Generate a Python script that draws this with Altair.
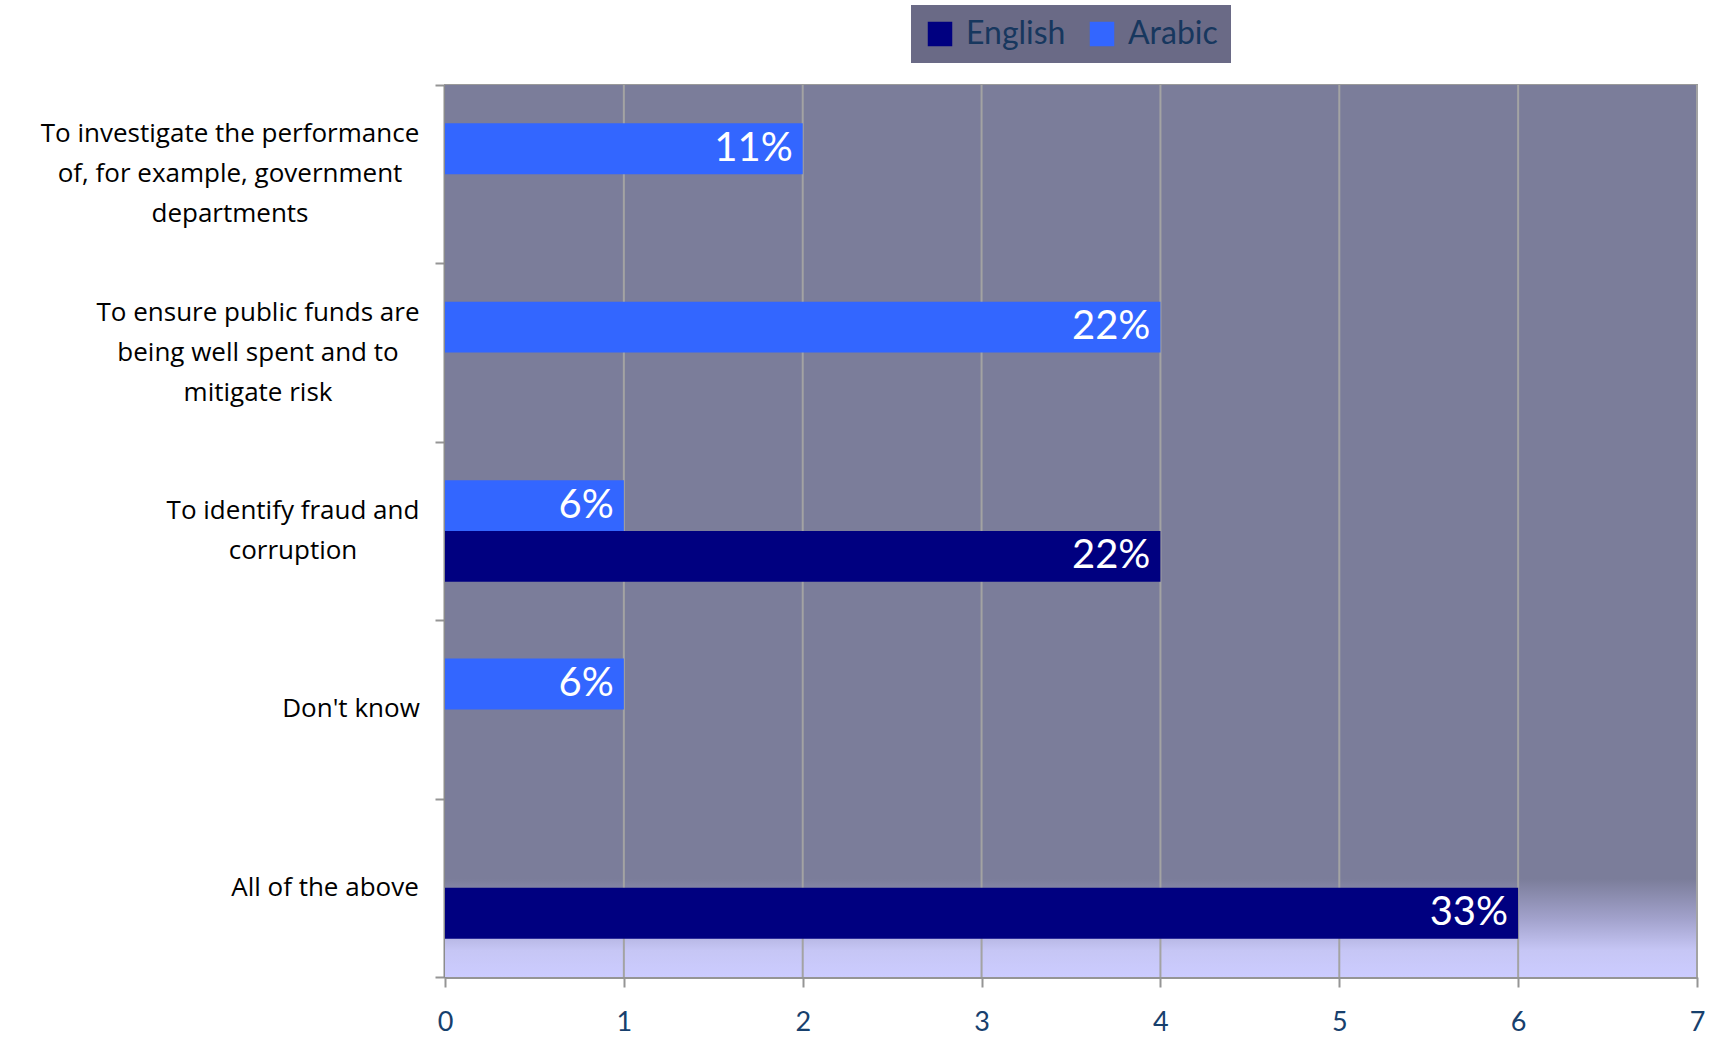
import altair as alt
import pandas as pd

categories = [
    "To investigate the performance\nof, for example, government\ndepartments",
    "To ensure public funds are\nbeing well spent and to\nmitigate risk",
    "To identify fraud and\ncorruption",
    "Don't know",
    "All of the above",
]
series = ["English", "Arabic"]
english_counts = [0, 0, 4, 0, 6]
english_labels = ["", "", "22%", "", "33%"]
arabic_counts = [2, 4, 1, 1, 0]
arabic_labels = ["11%", "22%", "6%", "6%", ""]
x_ticks = [0, 1, 2, 3, 4, 5, 6, 7]

# half-width (px) of each category label block: its centred lines end flush right
label_half_widths = [189, 161, 126, 68, 94]

W, H = 1252, 892

rows = []
for c, v, l in zip(categories, english_counts, english_labels):
    if v > 0:
        rows.append({"cat": c, "lang": "English", "value": v, "label": l})
for c, v, l in zip(categories, arabic_counts, arabic_labels):
    if v > 0:
        rows.append({"cat": c, "lang": "Arabic", "value": v, "label": l})
df = pd.DataFrame(rows)
ticks_df = pd.DataFrame({"tick": x_ticks[1:]})
cats_df = pd.DataFrame({"cat": categories})

FONT = "Lato"
CAT_FONT = "Open Sans"
XSCALE = alt.Scale(domain=[0, 7], nice=False)

background = alt.Chart(pd.DataFrame({"a": [0]})).mark_rect(
    color=alt.Gradient(
        gradient="linear",
        x1=0, y1=0, x2=0, y2=1,
        stops=[
            alt.GradientStop(offset=0.0, color="#7B7D9A"),
            alt.GradientStop(offset=0.89, color="#7B7D9A"),
            alt.GradientStop(offset=0.935, color="#A2A2CC"),
            alt.GradientStop(offset=0.97, color="#C6C6F5"),
            alt.GradientStop(offset=1.0, color="#CCCCFF"),
        ],
    )
).encode(
    x=alt.value(0), x2=alt.value(W), y=alt.value(0), y2=alt.value(H)
)

x_axis = alt.Axis(
    title=None,
    values=x_ticks,
    format="d",
    labelFont=FONT,
    labelFontSize=27,
    labelColor="#17406D",
    labelPadding=22,
    labelFlush=False,
    labelOverlap=False,
    tickSize=10,
    tickWidth=2,
    tickColor="#959595",
    domainColor="#959595",
    domainWidth=3,
    grid=False,
)

grid = alt.Chart(ticks_df).mark_rule(color="#A3A3A3", strokeWidth=2).encode(
    x=alt.X("tick:Q", scale=XSCALE, axis=x_axis)
)

y_enc = alt.Y(
    "cat:N",
    sort=categories,
    scale=alt.Scale(domain=categories, paddingInner=0, paddingOuter=0),
    axis=alt.Axis(
        title=None,
        labels=False,
        tickBand="extent",
        tickSize=10,
        tickWidth=2,
        tickColor="#959595",
        domainColor="#8C8C8C",
        domainWidth=4,
        grid=False,
    ),
)
yoff_enc = alt.YOffset(
    "lang:N",
    sort=["Arabic", "English"],
    scale=alt.Scale(domain=["Arabic", "English"], paddingInner=0, paddingOuter=0.754),
)

bars = alt.Chart(df).mark_bar().encode(
    x=alt.X("value:Q", scale=XSCALE, axis=x_axis),
    y=y_enc,
    yOffset=yoff_enc,
    color=alt.Color(
        "lang:N",
        scale=alt.Scale(domain=series, range=["#000080", "#3366FF"]),
        legend=alt.Legend(
            title=None,
            orient="none",
            legendX=466,
            legendY=-80,
            direction="horizontal",
            symbolType="square",
            symbolSize=600,
            symbolStrokeWidth=0,
            labelFont=FONT,
            labelFontSize=32,
            labelColor="#17375E",
            labelOffset=10,
            columnPadding=20,
            padding=13,
            fillColor="#6A6A86",
        ),
    ),
)

texts = alt.Chart(df).mark_text(
    align="right", baseline="middle", dx=-10, font=FONT, fontSize=40, color="#FFFFFF"
).encode(
    x=alt.X("value:Q", scale=XSCALE),
    y=alt.Y("cat:N", sort=categories),
    yOffset=alt.YOffset("lang:N", sort=["Arabic", "English"]),
    text="label:N",
)

# category labels: lines centred within each block, blocks flush right of the axis
x_expr = "0"
for c, hw in reversed(list(zip(categories, label_half_widths))):
    key = c.split("\n")[0].split("'")[0]
    x_expr = f"indexof(datum.cat, '{key}') == 0 ? {-(26 + hw)} : ({x_expr})"

cat_labels = alt.Chart(cats_df).transform_calculate(
    lines="split(datum.cat, '\\n')"
).mark_text(
    align="center",
    baseline="middle",
    font=CAT_FONT,
    fontSize=26,
    lineHeight=40,
    color="#000000",
    dy={"expr": "-(length(split(datum.cat, '\\n')) - 1) * 20"},
).encode(
    x=alt.value({"expr": x_expr}),
    y=alt.Y("cat:N", sort=categories),
    text="lines:N",
)

chart = (
    alt.layer(background, grid, bars, texts, cat_labels)
    .properties(
        width=W,
        height=H,
        autosize=alt.AutoSizeParams(type="none"),
        padding={"left": 445, "top": 85, "right": 18, "bottom": 60},
        background="#FFFFFF",
    )
    .configure_view(stroke="#9A9A9A", strokeWidth=2)
)

chart.save("out.html", embed_options={"renderer": "svg", "actions": False})
